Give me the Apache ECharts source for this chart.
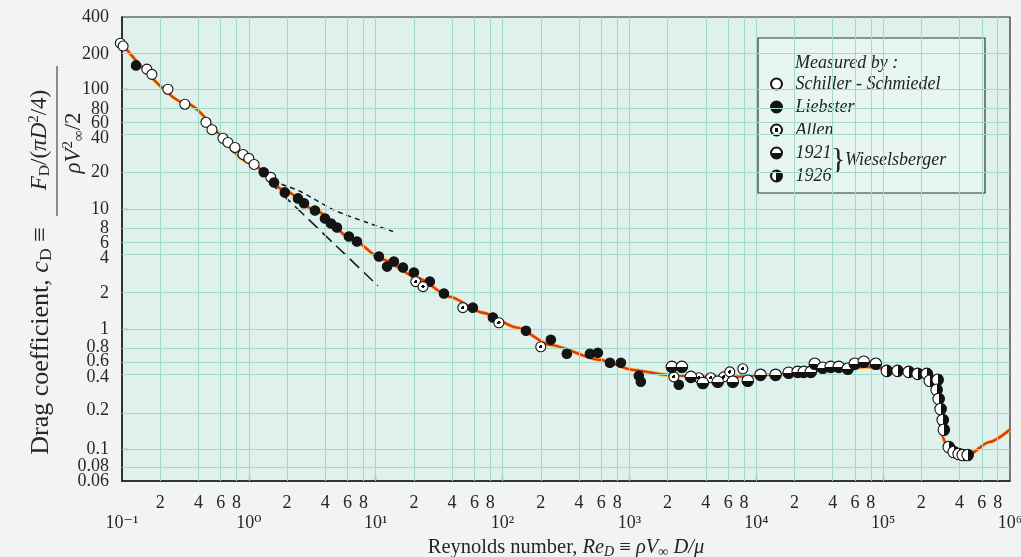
<!DOCTYPE html>
<html>
<head>
<meta charset="utf-8">
<title>Drag coefficient of a sphere</title>
<script src="https://cdn.jsdelivr.net/npm/echarts@6/dist/echarts.min.js"></script>
<style>
  html, body { margin: 0; padding: 0; background: #f2f4f4; }
  #chart { width: 1021px; height: 557px; }
</style>
</head>
<body>
<div id="chart"></div>
<script>
  var SERIF = "'Liberation Serif', 'DejaVu Serif', serif";

  // [Re, cD]
  var curve = [[0.1, 238], [0.32, 76], [1.02, 24.5], [1.86, 14.6], [3.44, 9.57], [6.27, 5.8], [11.4, 3.8],
    [21.1, 2.69], [38.5, 1.86], [70, 1.37], [130, 1.03], [236, 0.74], [585, 0.555], [1064, 0.458],
    [1972, 0.416], [3590, 0.40], [6530, 0.40], [12100, 0.416], [22000, 0.433], [40100, 0.467],
    [74300, 0.485], [99000, 0.47], [184000, 0.433], [246000, 0.40], [264000, 0.356], [279000, 0.20],
    [295000, 0.126], [323000, 0.098], [464000, 0.089], [692000, 0.115], [995000, 0.145]];
  var oseen = [[1.55, 17.0], [2.53, 14.1], [4.6, 9.93], [8.53, 7.74], [13.7, 6.52]];
  var stokes = [[1.4, 17.5], [10.4, 2.3]];

  var schiller = [[0.097, 242], [0.102, 229], [0.157, 147], [0.172, 133], [0.23, 100], [0.313, 75],
    [0.459, 53], [0.512, 46], [0.625, 39], [0.684, 36], [0.777, 32.7], [0.90, 28.6], [1.0, 26.5],
    [1.10, 23.6], [1.49, 18.4]];
  var liebster = [[0.129, 158], [1.31, 20.3], [1.58, 16.7], [1.92, 13.8], [2.44, 12.3], [2.72, 11.2],
    [3.32, 9.75], [3.98, 8.36], [4.44, 7.6], [4.95, 7.03], [6.15, 5.92], [7.11, 5.37], [10.6, 4.03],
    [12.3, 3.32], [13.9, 3.66], [16.4, 3.26], [20.0, 2.96], [26.7, 2.49], [34.5, 1.98], [58.3, 1.51],
    [83.9, 1.25], [153, 0.97], [240, 0.816], [321, 0.623], [488, 0.623], [564, 0.635], [702, 0.524],
    [856, 0.524], [1186, 0.408], [1230, 0.364], [2450, 0.344]];
  var allen = [[20.7, 2.49], [23.6, 2.26], [48.6, 1.51], [93.5, 1.13], [200, 0.713], [2240, 0.40],
    [3520, 0.393], [4380, 0.393], [5540, 0.40], [6180, 0.44], [7830, 0.467]];
  var wies1921 = [[2160, 0.485], [2590, 0.485], [3050, 0.40], [3790, 0.356], [4970, 0.364], [6530, 0.364],
    [8570, 0.371], [10800, 0.416], [14200, 0.416], [18000, 0.433], [21200, 0.44], [23700, 0.44],
    [26900, 0.44], [28900, 0.514], [33400, 0.476], [38600, 0.485], [44700, 0.485], [52600, 0.467],
    [59700, 0.514], [70300, 0.535], [87500, 0.514]];
  var wies1926 = [[107000, 0.449], [130000, 0.449], [159000, 0.44], [187000, 0.424], [221000, 0.424],
    [233000, 0.371], [269000, 0.378], [264000, 0.312], [274000, 0.262], [284000, 0.216], [295000, 0.175],
    [301000, 0.145], [329000, 0.104], [360000, 0.0946], [394000, 0.091], [424000, 0.0893], [464000, 0.0893]];

  // tick labels (the printed labels sit on the graph-paper lines, not on exact log positions)
  var yTickText = ['400', '200', '100', '80', '60', '40', '20', '10', '8', '6', '4', '2', '1',
    '0.8', '0.6', '0.4', '0.2', '0.1', '0.08', '0.06'];
  var yTickAt = [400, 196, 100, 68, 52, 39, 20.3, 10, 6.9, 5.2, 3.9, 2.0, 1, 0.71, 0.535, 0.40,
    0.212, 0.1, 0.072, 0.0542];
  var yMin = 0.0542;
  var yMax = 400;
  var xDecades = [0.1, 1, 10, 100, 1000, 10000, 100000, 1000000];
  var xDecadeText = ['10⁻¹', '10⁰', '10¹', '10²', '10³', '10⁴', '10⁵', '10⁶'];
  var xMinorDigits = [2, 4, 6, 8];
  var yGridLines = [200, 100, 69, 53, 42, 20.4, 10, 6.9, 5.3, 4.2, 2.04, 1, 0.69, 0.53, 0.42, 0.204, 0.1, 0.069];

  var xMinorAt = [];
  var xGridLines = [];
  for (var d = 0; d < xDecades.length - 1; d++) {
    xMinorDigits.forEach(function (m) { xMinorAt.push(m * xDecades[d]); xGridLines.push(m * xDecades[d]); });
    if (d > 0) xGridLines.push(xDecades[d]);
  }

  function nearest(v, arr) {
    var best = 0;
    for (var i = 1; i < arr.length; i++) {
      if (Math.abs(Math.log(arr[i] / v)) < Math.abs(Math.log(arr[best] / v))) best = i;
    }
    return best;
  }

  var chart = echarts.init(document.getElementById('chart'));

  var gridMarks = xGridLines.map(function (v) { return { xAxis: v }; })
    .concat(yGridLines.map(function (v) { return { yAxis: v }; }));

  function mk(name, data, size, color) {
    return {
      name: name, type: 'scatter', data: data, symbol: 'circle', symbolSize: size, clip: false, z: 5,
      itemStyle: { color: color, borderColor: '#141414', borderWidth: 1.1, opacity: 1 }
    };
  }

  var halfTop = new echarts.graphic.LinearGradient(0, 0, 0, 1, [
    { offset: 0, color: '#ffffff' }, { offset: 0.5, color: '#ffffff' },
    { offset: 0.5, color: '#111111' }, { offset: 1, color: '#111111' }]);
  var halfLeft = new echarts.graphic.LinearGradient(0, 0, 1, 0, [
    { offset: 0, color: '#ffffff' }, { offset: 0.5, color: '#ffffff' },
    { offset: 0.5, color: '#111111' }, { offset: 1, color: '#111111' }]);
  var dotted = new echarts.graphic.RadialGradient(0.5, 0.5, 0.5, [
    { offset: 0, color: '#111111' }, { offset: 0.3, color: '#111111' },
    { offset: 0.3, color: '#ffffff' }, { offset: 1, color: '#ffffff' }]);

  var txt = { fontFamily: SERIF, fontSize: 18, color: '#262626' };

  // the two bottom labels are packed tightly; each sits on its own (lineless) axis
  // so echarts does not drop one of them as an overlap
  var mainLabelCount = yTickAt.length - 2;
  function labelAxis(i) {
    return {
      type: 'log', min: yMin, max: yMax, position: 'left', offset: 0,
      axisLine: { show: false }, axisTick: { show: false }, splitLine: { show: false },
      axisLabel: Object.assign({ customValues: [yTickAt[i]], margin: 13, showMinLabel: true,
        formatter: function () { return yTickText[i]; }
      }, txt)
    };
  }

  // rich styles for the rotated y title
  function titleRich(size) {
    return {
      n: { fontFamily: SERIF, fontSize: size, lineHeight: size + 3, fill: '#262626' },
      i: { fontFamily: SERIF, fontSize: size, lineHeight: size + 3, fontStyle: 'italic', fill: '#262626' },
      sub: { fontFamily: SERIF, fontSize: size * 0.68, lineHeight: 15, verticalAlign: 'bottom', fill: '#262626' },
      sup: { fontFamily: SERIF, fontSize: size * 0.65, lineHeight: 14, verticalAlign: 'top', fill: '#262626' },
      isub: { fontFamily: SERIF, fontSize: size * 0.65, lineHeight: 14, verticalAlign: 'bottom', fontStyle: 'italic', fill: '#262626' }
    };
  }

  chart.setOption({
    animation: false,
    backgroundColor: '#f2f4f4',
    grid: {
      left: 122, right: 11, top: 17, bottom: 76,
      outerBoundsMode: 'none', containLabel: false,
      show: true, backgroundColor: '#def1ed', borderColor: '#2a2a2a', borderWidth: 1.2
    },
    legend: {
      orient: 'vertical', left: 765, top: 70, itemWidth: 28, itemHeight: 11, itemGap: 5,
      selectedMode: false,
      data: ['Schiller - Schmiedel', 'Liebster', 'Allen', '1921', '1926'],
      textStyle: { fontFamily: SERIF, fontStyle: 'italic', fontSize: 18, color: '#222', lineHeight: 17 }
    },
    xAxis: [{
      type: 'log', min: 0.1, max: 1000000,
      axisLine: { lineStyle: { color: '#1a1a1a', width: 1.5 } },
      axisTick: { inside: true, length: 6, customValues: [1, 10, 100, 1000, 10000, 100000],
        lineStyle: { color: '#1a1a1a', width: 1.2 } },
      splitLine: { show: false },
      axisLabel: Object.assign({ customValues: xMinorAt, margin: 13,
        formatter: function (v) { return String(Math.round(v / Math.pow(10, Math.floor(Math.log10(v) + 1e-9)))); }
      }, txt)
    }, {
      type: 'log', min: 0.1, max: 1000000, position: 'bottom',
      axisLine: { show: false }, axisTick: { show: false }, splitLine: { show: false },
      axisLabel: Object.assign({ customValues: xDecades, margin: 33, showMinLabel: true, showMaxLabel: true,
        formatter: function (v) { return xDecadeText[nearest(v, xDecades)]; }
      }, txt),
      name: '{n|Reynolds number, }{i|Re}{sub|D}{n| ≡ }{i|ρV}{sub|∞}{i| D/μ}',
      nameLocation: 'middle', nameGap: 56,
      nameTextStyle: {
        rich: {
          n: { fontFamily: SERIF, fontSize: 20.5, lineHeight: 22, color: '#262626' },
          i: { fontFamily: SERIF, fontSize: 20.5, lineHeight: 22, fontStyle: 'italic', color: '#262626' },
          sub: { fontFamily: SERIF, fontSize: 14, lineHeight: 12, fontStyle: 'italic', verticalAlign: 'bottom', color: '#262626' }
        }
      }
    }],
    yAxis: [{
      type: 'log', min: yMin, max: yMax,
      axisLine: { lineStyle: { color: '#1a1a1a', width: 1.5 } },
      axisTick: { inside: true, length: 6, customValues: [0.1, 1, 10, 100],
        lineStyle: { color: '#1a1a1a', width: 1.2 } },
      splitLine: { show: false },
      axisLabel: Object.assign({ customValues: yTickAt.slice(0, mainLabelCount), margin: 13,
        showMinLabel: true, showMaxLabel: true,
        formatter: function (v) { return yTickText[nearest(v, yTickAt)]; }
      }, txt)
    }, labelAxis(mainLabelCount), labelAxis(mainLabelCount + 1)],
    series: [{
      name: 'paper', type: 'line', data: [], z: 1, silent: true,
      markLine: {
        silent: true, symbol: ['none', 'none'], animation: false,
        label: { show: false },
        lineStyle: { color: '#a2dac4', width: 1, type: 'solid' },
        emphasis: { disabled: true },
        data: gridMarks
      }
    }, {
      name: 'glow', type: 'line', data: curve, showSymbol: false, symbol: 'none', smooth: 0.25,
      smoothMonotone: 'x', z: 3, silent: true, lineStyle: { color: '#f4c530', width: 3.8 }
    }, {
      name: 'curve', type: 'line', data: curve, showSymbol: false, symbol: 'none', smooth: 0.25,
      smoothMonotone: 'x', z: 3, silent: true, lineStyle: { color: '#e0351c', width: 2.3 }
    }, {
      name: 'oseen', type: 'line', data: oseen, showSymbol: false, symbol: 'none', smooth: 0.3, z: 3,
      silent: true, lineStyle: { color: '#1a1a1a', width: 1.5, type: [5, 4] }
    }, {
      name: 'stokes', type: 'line', data: stokes, showSymbol: false, symbol: 'none', z: 3,
      silent: true, lineStyle: { color: '#1a1a1a', width: 1.6, type: [13, 6] }
    },
      mk('Schiller - Schmiedel', schiller, 10, '#ffffff'),
      mk('Liebster', liebster, 9.5, '#141414'),
      mk('Allen', allen, 10, dotted),
      mk('1921', wies1921, 11.5, halfTop),
      mk('1926', wies1926, 11.5, halfLeft)
    ],
    graphic: [{
      type: 'rect', z: 3, shape: { x: 758, y: 38, width: 227, height: 155 },
      style: { fill: 'rgba(232,247,244,0.8)', stroke: '#333', lineWidth: 1.2 }
    }, {
      type: 'text', z: 5, x: 795, y: 63,
      style: { text: 'Measured by :', font: 'italic 18px ' + SERIF, fill: '#222', textVerticalAlign: 'middle' }
    }, {
      type: 'text', z: 5, x: 831, y: 160,
      style: { text: '}', font: '30px ' + SERIF, fill: '#222', textVerticalAlign: 'middle' }
    }, {
      type: 'text', z: 5, x: 845, y: 160,
      style: { text: 'Wieselsberger', font: 'italic 18px ' + SERIF, fill: '#222', textVerticalAlign: 'middle' }
    }, {
      type: 'text', z: 5, x: 41, y: 341, rotation: Math.PI / 2,
      style: {
        text: '{n|Drag coefficient, }{i|c}{sub|D}{n| ≡}',
        align: 'center', verticalAlign: 'middle', rich: titleRich(26)
      }
    }, {
      type: 'text', z: 5, x: 40, y: 140, rotation: Math.PI / 2,
      style: {
        text: '{i|F}{sub|D}{n|/(}{i|πD}{sup|2}{n|/4)}',
        align: 'center', verticalAlign: 'middle', rich: titleRich(23)
      }
    }, {
      type: 'line', z: 5, shape: { x1: 57, y1: 216, x2: 57, y2: 66 },
      style: { stroke: '#262626', lineWidth: 1 }
    }, {
      type: 'text', z: 5, x: 74, y: 143, rotation: Math.PI / 2,
      style: {
        text: '{i|ρV}{sup|2}{isub|∞}{n|/2}',
        align: 'center', verticalAlign: 'middle', rich: titleRich(23)
      }
    }]
  });
</script>
</body>
</html>
